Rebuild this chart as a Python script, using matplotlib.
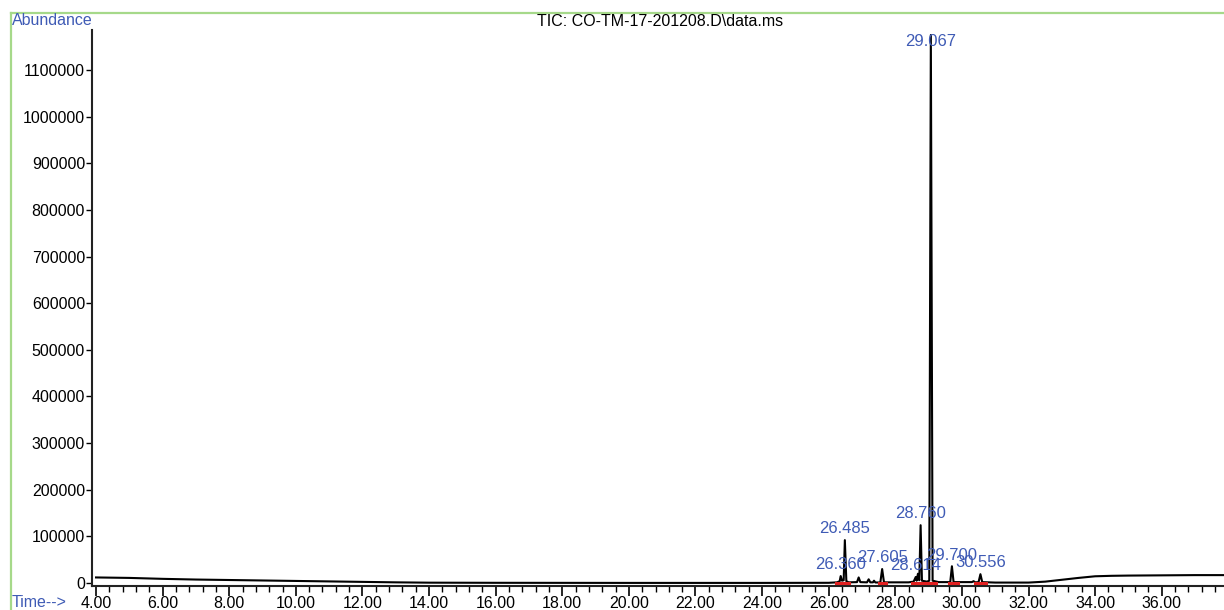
import matplotlib
matplotlib.use("Agg")
import matplotlib.pyplot as plt
from matplotlib.lines import Line2D
from matplotlib.ticker import MultipleLocator

plt.rcParams["font.family"] = ["Liberation Sans", "DejaVu Sans"]

# TIC trace (retention time in min, abundance)
times = [4.00, 5.0, 6.0, 7.0, 8.0, 9.0, 10.0, 11.0, 12.0, 13.0, 14.0, 16.0, 20.0, 24.0,
         26.0, 26.25, 26.33, 26.36, 26.40, 26.45, 26.485, 26.53, 26.60,
         26.85, 26.90, 26.95, 27.15, 27.20, 27.25, 27.33, 27.36, 27.40,
         27.55, 27.605, 27.66, 28.40, 28.55, 28.614, 28.64, 28.68, 28.72,
         28.760, 28.80, 28.95, 29.02, 29.067, 29.12, 29.30, 29.65, 29.700,
         29.75, 30.30, 30.35, 30.40, 30.50, 30.556, 30.61, 31.0, 32.0, 32.5,
         33.0, 33.5, 34.0, 34.5, 35.0, 36.0, 37.0, 37.9]
abundance = [12000, 11000, 9000, 7500, 6500, 5500, 4500, 3500, 2500, 1500, 800, 500, 300, 300,
             500, 1500, 4000, 15000, 5000, 6000, 92000, 4000, 1500,
             2000, 12000, 2000, 1500, 8000, 1500, 1500, 5000, 1200,
             1200, 30000, 1500, 1500, 3000, 13000, 5000, 20000, 6000,
             124000, 5000, 3000, 5000, 1175000, 5000, 2000, 2000, 36000,
             2000, 2000, 4000, 1500, 2000, 19000, 2000, 1000, 1000, 3000,
             7000, 11000, 14500, 15500, 16000, 16500, 17000, 17000]

# labelled peaks
peak_rt = [26.360, 26.485, 27.605, 28.614, 28.760, 29.067, 29.700, 30.556]
peak_height = [15000, 92000, 30000, 13000, 124000, 1175000, 36000, 19000]
peak_labels = ["26.360", "26.485", "27.605", "28.614", "28.760", "29.067", "29.700", "30.556"]

# integration baselines (start, end)
integ_start = [26.22, 27.52, 28.50, 28.95, 29.62, 30.38]
integ_end = [26.62, 27.72, 28.95, 29.22, 29.88, 30.72]

y_ticks = list(range(0, 1100001, 100000))
x_ticks = [4, 6, 8, 10, 12, 14, 16, 18, 20, 22, 24, 26, 28, 30, 32, 34, 36]

BLUE = "#3f5bb5"
GREEN = "#a6d98a"

fig = plt.figure(figsize=(12.24, 6.10), dpi=100)
ax = fig.add_axes([0.0752, 0.0393, 0.9248, 0.9115])

ax.plot(times, abundance, color="black", linewidth=1.5, zorder=3)
for s, e in zip(integ_start, integ_end):
    ax.plot([s, e], [0, 0], color="#e02020", linewidth=2.2, zorder=4)

for rt, h, lab in zip(peak_rt, peak_height, peak_labels):
    ax.text(rt, min(h + 8000, 1145000), lab, ha="center", va="bottom",
            fontsize=12, color=BLUE, zorder=5)

ax.set_xlim(3.88, 37.87)
ax.set_ylim(-6400, 1185700)
ax.set_xticks(x_ticks)
ax.set_xticklabels([f"{t:.2f}" for t in x_ticks])
ax.xaxis.set_minor_locator(MultipleLocator(0.4))
ax.set_yticks(y_ticks)
ax.set_yticklabels([str(v) for v in y_ticks])

ax.tick_params(axis="x", which="major", length=7, width=1.2, labelsize=11.5, pad=0)
ax.tick_params(axis="x", which="minor", length=4, width=1.0)
ax.tick_params(axis="y", which="major", length=4, width=1.0, labelsize=11.5, pad=1)

for spine in ("top", "right"):
    ax.spines[spine].set_visible(False)
ax.spines["left"].set_linewidth(1.5)
ax.spines["bottom"].set_linewidth(1.5)
ax.spines["left"].set_color("#222222")
ax.spines["bottom"].set_color("#222222")

# green frame around the report area
fig.add_artist(Line2D([0.009, 1.0], [0.9787, 0.9787], color=GREEN, linewidth=1.6))
fig.add_artist(Line2D([0.009, 0.009], [0.0, 0.9787], color=GREEN, linewidth=1.6))

fig.text(0.0095, 0.967, "Abundance", color=BLUE, fontsize=11.5, ha="left", va="center")
fig.text(0.0098, 0.0125, "Time-->", color=BLUE, fontsize=11.5, ha="left", va="center")
fig.text(0.539, 0.964, "TIC: CO-TM-17-201208.D\\data.ms", color="black",
         fontsize=11.5, ha="center", va="center")

fig.savefig("out.png", dpi=100)
